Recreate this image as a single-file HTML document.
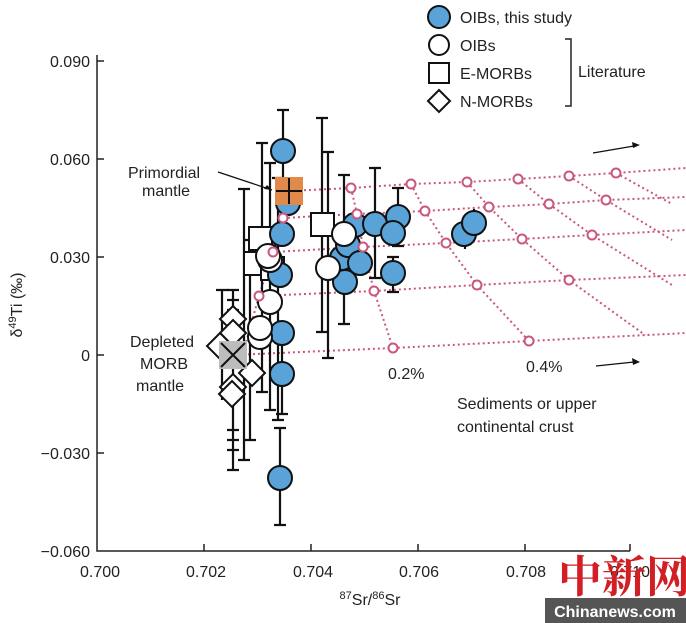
<!DOCTYPE html>
<html><head><meta charset="utf-8"><style>
body{margin:0;background:#fff;}
svg{display:block;font-family:"Liberation Sans",Arial,sans-serif;}
</style></head><body>
<svg width="686" height="623" viewBox="0 0 686 623" xmlns="http://www.w3.org/2000/svg">
<rect width="686" height="623" fill="#fff"/>
<g stroke="#222" stroke-width="1.5" fill="none">
<path d="M97 55 V551 H630"/>
<path d="M97 61h7M97 159h7M97 257h7M97 355h7M97 453h7"/>
<path d="M204 551v-7M311 551v-7M418 551v-7M525 551v-7M630 551v-7"/>
</g>
<g font-size="16" fill="#222" text-anchor="end">
<text x="90" y="67">0.090</text><text x="90" y="165">0.060</text><text x="90" y="263">0.030</text>
<text x="90" y="361">0</text><text x="90" y="459">−0.030</text><text x="90" y="557">−0.060</text>
</g>
<g font-size="16" fill="#222" text-anchor="middle">
<text x="100" y="577">0.700</text><text x="206" y="577">0.702</text><text x="313" y="577">0.704</text>
<text x="419" y="577">0.706</text><text x="526" y="577">0.708</text><text x="630" y="577">0.710</text>
<text x="370" y="605"><tspan font-size="11" dy="-6">87</tspan><tspan dy="6">Sr/</tspan><tspan font-size="11" dy="-6">86</tspan><tspan dy="6">Sr</tspan></text>
</g>
<text transform="translate(22,305) rotate(-90)" font-size="16" fill="#222" text-anchor="middle">δ<tspan font-size="11" dy="-6">49</tspan><tspan dy="6">Ti (‰)</tspan></text>

<g stroke="#c9577d" stroke-width="2" stroke-dasharray="2 3" fill="none">
<polyline points="289,191 351,188 411,184 467,182 518,179 569,176 616,173 686,168"/>
<polyline points="283,218 357,214 425,211 489,207 549,204 606,200 686,197"/>
<polyline points="273,252 363,247 446,243 522,239 592,235 686,230"/>
<polyline points="259,296 374,291 477,285 569,280 686,275"/>
<polyline points="233,355 393,348 529,341 686,333"/>
<polyline points="289,191 283,218 273,252 259,296 243,353"/>
<polyline points="351,188 357,214 363,247 374,291 393,348"/>
<polyline points="411,184 425,211 446,243 477,285 529,341"/>
<polyline points="467,182 489,207 522,239 569,280 645,335"/>
<polyline points="518,179 549,204 592,235 672,285"/>
<polyline points="569,176 606,200 672,240"/>
<polyline points="616,173 672,204"/>
</g>

<g stroke="#111" stroke-width="2.2" fill="none">
<path d="M283 110V185M277 110h12M277 185h12"/>
<path d="M322 118V332M316 118h12M316 332h12"/>
<path d="M328 152V358M322 152h12M322 358h12"/>
<path d="M344 175V324M338 175h12M338 324h12"/>
<path d="M375 168V278M369 168h12M369 278h12"/>
<path d="M398 188V246M392 188h12M392 246h12"/>
<path d="M393 257V292M387 257h12M387 292h12"/>
<path d="M465 222V249M474 209V238"/>
<path d="M262 143V392M256 143h12M256 392h12"/>
<path d="M270 163V410M264 163h12M264 410h12"/>
<path d="M278 178V420M272 178h12M272 420h12"/>
<path d="M244 189V460M238 189h12M238 460h12"/>
<path d="M250 240V440M244 240h12M244 440h12"/>
<path d="M233 290V470M227 290h12M227 470h12M227 300h12M227 310h12M227 430h12M227 440h12M227 450h12"/>
<path d="M222 290V400M216 290h12"/>
<path d="M282 340V414M276 414h12"/>
<path d="M280 428V525M274 428h12M274 525h12"/>
</g>

<g fill="#fff" stroke="#111" stroke-width="2">
<rect x="249" y="227" width="23" height="23"/>
<rect x="244" y="252" width="23" height="23"/>
<rect x="261" y="257" width="23" height="23"/>
<rect x="311" y="213" width="23" height="23"/>
</g>
<g fill="#5aa3d8" stroke="#111" stroke-width="2">
<circle cx="283" cy="151" r="12"/>
<circle cx="288" cy="203" r="12"/>
<circle cx="282" cy="234" r="12"/>
<circle cx="280" cy="275" r="12"/>
<circle cx="282" cy="333" r="12"/>
<circle cx="282" cy="374" r="12"/>
<circle cx="280" cy="478" r="12"/>
<circle cx="355" cy="225" r="12"/>
<circle cx="375" cy="224" r="12"/>
<circle cx="398" cy="217" r="12"/>
<circle cx="393" cy="233" r="12"/>
<circle cx="342" cy="258" r="12"/>
<circle cx="348" cy="245" r="12"/>
<circle cx="360" cy="263" r="12"/>
<circle cx="345" cy="282" r="12"/>
<circle cx="393" cy="273" r="12"/>
<circle cx="464" cy="234" r="12"/>
<circle cx="474" cy="223" r="12"/>
</g>
<g fill="#fff" stroke="#111" stroke-width="2">
<circle cx="328" cy="268" r="12"/>
<circle cx="344" cy="234" r="12"/>
<circle cx="270" cy="260" r="12"/>
<circle cx="268" cy="256" r="12"/>
<circle cx="270" cy="302" r="12"/>
<circle cx="260" cy="337" r="12"/>
<circle cx="260" cy="328" r="12"/>
</g>
<g fill="#fff" stroke="#111" stroke-width="2">
<path d="M233 306l13 13-13 13-13-13z"/>
<path d="M233 320l13 13-13 13-13-13z"/>
<path d="M220 333l13 13-13 13-13-13z"/>
<path d="M252 360l13 13-13 13-13-13z"/>
<path d="M233 374l13 13-13 13-13-13z"/>
<path d="M232 381l13 13-13 13-13-13z"/>
</g>
<rect x="219" y="341" width="28" height="28" fill="#bdbdbd"/>
<path d="M221 343l24 24M245 343l-24 24" stroke="#111" stroke-width="2"/>
<rect x="275" y="177" width="28" height="28" fill="#e0894a"/>
<path d="M289 178v26M276 191h26" stroke="#111" stroke-width="2"/>

<g fill="#fff" stroke="#c9577d" stroke-width="2">
<circle cx="351" cy="188" r="4.5"/><circle cx="411" cy="184" r="4.5"/><circle cx="467" cy="182" r="4.5"/><circle cx="518" cy="179" r="4.5"/><circle cx="569" cy="176" r="4.5"/><circle cx="616" cy="173" r="4.5"/>
<circle cx="283" cy="218" r="4.5"/><circle cx="357" cy="214" r="4.5"/><circle cx="425" cy="211" r="4.5"/><circle cx="489" cy="207" r="4.5"/><circle cx="549" cy="204" r="4.5"/><circle cx="606" cy="200" r="4.5"/>
<circle cx="273" cy="252" r="4.5"/><circle cx="363" cy="247" r="4.5"/><circle cx="446" cy="243" r="4.5"/><circle cx="522" cy="239" r="4.5"/><circle cx="592" cy="235" r="4.5"/>
<circle cx="259" cy="296" r="4.5"/><circle cx="374" cy="291" r="4.5"/><circle cx="477" cy="285" r="4.5"/><circle cx="569" cy="280" r="4.5"/>
<circle cx="393" cy="348" r="4.5"/><circle cx="529" cy="341" r="4.5"/>
</g>

<g font-size="16" fill="#222">
<text x="128" y="178">Primordial</text><text x="142" y="196">mantle</text>
<text x="130" y="347">Depleted</text><text x="140" y="369">MORB</text><text x="136" y="391">mantle</text>
<text x="388" y="379">0.2%</text><text x="526" y="372">0.4%</text>
<text x="457" y="409">Sediments or upper</text><text x="457" y="432">continental crust</text>
</g>
<path d="M218 172L272 190" stroke="#111" stroke-width="1.3"/>
<path d="M272 190l-8-1 3-4z" fill="#111"/>
<g stroke="#111" stroke-width="1.3"><path d="M593 153L634 146M596 366L634 362"/></g>
<path d="M640 145l-8-3 1 6zM640 362l-8-4 1 7z" fill="#111"/>

<circle cx="439" cy="17" r="11" fill="#5aa3d8" stroke="#111" stroke-width="2"/>
<circle cx="439" cy="45" r="10" fill="#fff" stroke="#111" stroke-width="2"/>
<rect x="429" y="63" width="20" height="20" fill="#fff" stroke="#111" stroke-width="2"/>
<path d="M439 90l11 11-11 11-11-11z" fill="#fff" stroke="#111" stroke-width="2"/>
<g font-size="16" fill="#222">
<text x="460" y="23">OIBs, this study</text><text x="460" y="51">OIBs</text>
<text x="460" y="79">E-MORBs</text><text x="460" y="107">N-MORBs</text>
<text x="578" y="77">Literature</text>
</g>
<path d="M565 39h6v67h-6" fill="none" stroke="#222" stroke-width="1.5"/>

<text x="558" y="592" font-size="44" fill="#d21f26" font-family="'Noto Serif CJK SC','Noto Sans CJK SC',serif" font-weight="bold">中新网</text>
<rect x="545" y="598" width="141" height="25" fill="#555"/>
<text x="615" y="617" font-size="16" fill="#fff" font-weight="bold" text-anchor="middle">Chinanews.com</text>
</svg>
</body></html>
